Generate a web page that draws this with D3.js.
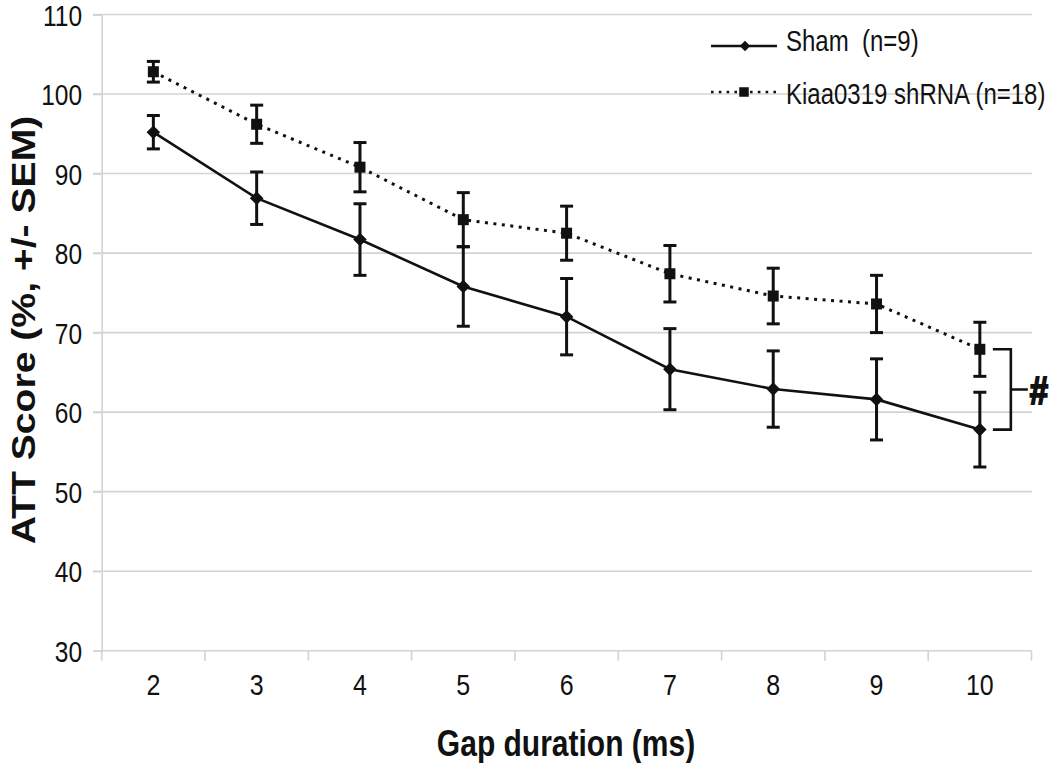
<!DOCTYPE html>
<html><head><meta charset="utf-8">
<script src="https://cdn.jsdelivr.net/npm/d3@7"></script>
<style>html,body{margin:0;padding:0;background:#fff;}svg{display:block;}</style>
</head><body>
<svg id="chart" width="1050" height="763"></svg>
<script>
const categories = [2, 3, 4, 5, 6, 7, 8, 9, 10];
const shamMean = [95.2, 86.9, 81.7, 75.8, 72.0, 65.4, 62.9, 61.6, 57.8];
const shamSem  = [2.1, 3.3, 4.5, 5.0, 4.8, 5.1, 4.8, 5.1, 4.7];
const kiaaMean = [102.8, 96.2, 90.8, 84.2, 82.5, 77.4, 74.6, 73.6, 67.9];
const kiaaSem  = [1.3, 2.4, 3.1, 3.4, 3.4, 3.55, 3.5, 3.6, 3.4];
const yTicks = [30, 40, 50, 60, 70, 80, 90, 100, 110];
const seriesNames = ["Sham\u00a0 (n=9)", "Kiaa0319 shRNA (n=18)"];
const xTitle = "Gap duration (ms)";
const yTitle = "ATT Score (%, +/- SEM)";

const svg = d3.select("#chart");
const FONT = "'Liberation Sans', Arial, sans-serif";
const SY = 1.2; // vertical stretch of the reference's text

const x = d3.scaleBand().domain(categories).range([101.7, 1031.5]).padding(0);
const y = d3.scaleLinear().domain([30, 110]).range([650.7, 14.5]);
const xc = d => x(d) + x.bandwidth() / 2;

const grid = "#d3d3d3";

// gridlines
svg.append("g").selectAll("line").data(yTicks.filter(t => t > 30)).join("line")
  .attr("x1", 93).attr("x2", 1032).attr("y1", d => y(d)).attr("y2", d => y(d))
  .attr("stroke", grid).attr("stroke-width", 1.6);

// y axis
const yAxis = svg.append("g").attr("transform", "translate(101.7,0)")
  .call(d3.axisLeft(y).tickValues(yTicks).tickSize(8.7).tickPadding(11));
yAxis.select(".domain").attr("stroke", grid).attr("stroke-width", 1.6);
yAxis.selectAll(".tick line").attr("stroke", grid).attr("stroke-width", 1.6);
yAxis.selectAll(".tick text").attr("font-family", FONT).attr("font-size", 24.5)
  .attr("fill", "#111").attr("dy", null).attr("transform", `scale(1,${SY})`)
  .attr("y", 10.6 / SY);

// x axis (gray baseline with ticks at band edges)
const edges = categories.map(c => x(c)).concat([x.range()[1]]);
svg.append("line").attr("x1", 101.7).attr("x2", 1031.5).attr("y1", y(30)).attr("y2", y(30))
  .attr("stroke", grid).attr("stroke-width", 1.6);
svg.append("g").selectAll("line").data(edges).join("line")
  .attr("x1", d => d).attr("x2", d => d).attr("y1", y(30)).attr("y2", y(30) + 10)
  .attr("stroke", grid).attr("stroke-width", 1.6);
svg.append("g").selectAll("text").data(categories).join("text")
  .attr("transform", d => `translate(${xc(d)},695) scale(1,${SY})`)
  .attr("text-anchor", "middle").attr("font-family", FONT).attr("font-size", 25)
  .attr("fill", "#111").text(d => d);

// axis titles
svg.append("text").attr("transform", `translate(566,756) scale(1,${SY})`)
  .attr("text-anchor", "middle").attr("font-family", FONT).attr("font-weight", "bold")
  .attr("font-size", 30).attr("fill", "#111").text(xTitle);
svg.append("text").attr("transform", `translate(35,330) scale(1,${SY}) rotate(-90)`)
  .attr("text-anchor", "middle").attr("font-family", FONT).attr("font-weight", "bold")
  .attr("font-size", 32.6).attr("fill", "#111").text(yTitle);

const ink = "#111";
function diamond(g, cx, cy, r) {
  g.append("path").attr("d", `M${cx},${cy - r}L${cx + r},${cy}L${cx},${cy + r}L${cx - r},${cy}Z`).attr("fill", ink);
}
function square(g, cx, cy, s) {
  g.append("rect").attr("x", cx - s / 2).attr("y", cy - s / 2).attr("width", s).attr("height", s).attr("fill", ink);
}

function drawSeries(mean, sem, dashed, marker) {
  const g = svg.append("g");
  const pts = categories.map((c, i) => [xc(c), y(mean[i])]);
  g.append("path").attr("d", d3.line()(pts)).attr("fill", "none").attr("stroke", ink)
    .attr("stroke-width", dashed ? 3 : 2.6)
    .attr("stroke-dasharray", dashed ? "3,5.5" : null);
  categories.forEach((c, i) => {
    const cx = xc(c), top = y(mean[i] + sem[i]), bot = y(mean[i] - sem[i]);
    g.append("line").attr("x1", cx).attr("x2", cx).attr("y1", top).attr("y2", bot)
      .attr("stroke", ink).attr("stroke-width", 3);
    [top, bot].forEach(v => g.append("line").attr("x1", cx - 6.5).attr("x2", cx + 6.5)
      .attr("y1", v).attr("y2", v).attr("stroke", ink).attr("stroke-width", 3));
    if (marker === "d") diamond(g, cx, y(mean[i]), 6.8); else square(g, cx, y(mean[i]), 11);
  });
}
drawSeries(shamMean, shamSem, false, "d");
drawSeries(kiaaMean, kiaaSem, true, "s");

// legend
const lg = svg.append("g");
[[46, false, "d"], [92, true, "s"]].forEach(([ly, dashed, m], i) => {
  lg.append("line").attr("x1", 711).attr("x2", 777).attr("y1", ly).attr("y2", ly)
    .attr("stroke", ink).attr("stroke-width", dashed ? 2.6 : 2.3)
    .attr("stroke-dasharray", dashed ? "2.6,5.2" : null);
  if (m === "d") diamond(lg, 745, ly, 5.2); else square(lg, 744, ly, 9.5);
  lg.append("text").attr("transform", `translate(786,${ly + 5 + (i ? 7 : 0)}) scale(1,${SY})`)
    .attr("font-family", FONT).attr("font-size", 24).attr("fill", "#111")
    .style("white-space", "pre").text(seriesNames[i]);
});

// significance bracket
const last = categories.length - 1;
const bx0 = xc(categories[last]) + 13, bx1 = bx0 + 18;
const by0 = y(kiaaMean[last]), by1 = y(shamMean[last]), bym = (by0 + by1) / 2;
svg.append("path").attr("d", `M${bx0},${by0}H${bx1}V${by1}H${bx0}M${bx1},${bym}H${bx1 + 17}`)
  .attr("fill", "none").attr("stroke", ink).attr("stroke-width", 2.6);
svg.append("text").attr("transform", `translate(1039,${bym + 15}) scale(1,${SY})`)
  .attr("text-anchor", "middle").attr("font-family", FONT).attr("font-weight", "bold")
  .attr("font-size", 33).attr("fill", ink).attr("stroke", ink).attr("stroke-width", 1.6)
  .text("#");
</script>
</body></html>
